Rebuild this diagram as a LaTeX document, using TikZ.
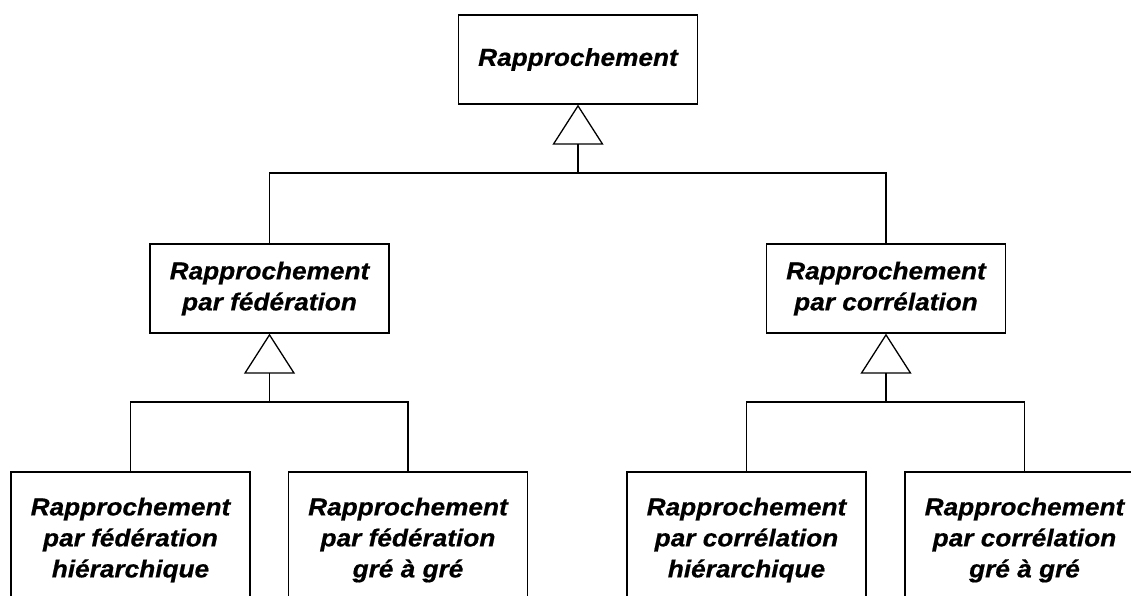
\documentclass[tikz,border=0pt]{standalone}
\usepackage{fontspec}
\setmainfont{Liberation Sans}[FakeStretch=1.07,FakeBold=0.6]
\usetikzlibrary{arrows.meta}
\begin{document}
\begin{tikzpicture}[x=1pt,y=-1pt,line width=1.3pt,
  box/.style={draw, fill=white, minimum width=239pt, align=center, inner sep=0pt,
    font=\fontsize{24.5}{31}\selectfont\bfseries\itshape},
  gen/.style={-{Triangle[open,length=40pt,width=51pt]}}]
\useasboundingbox (0,0) rectangle (1131,595);
\clip (0,0) rectangle (1131,595);
\node[box, minimum height=89pt] (root) at (578,59.5) {Rapprochement};
\node[box, minimum height=89pt] (fed) at (269.5,288.5) {Rapprochement\\par fédération};
\node[box, minimum height=89pt] (cor) at (886,288.5) {Rapprochement\\par corrélation};
\node[box, minimum height=136pt] (fh) at (130.5,540) {Rapprochement\\par fédération\\hiérarchique};
\node[box, minimum height=136pt] (fg) at (408,540) {Rapprochement\\par fédération\\gré à gré};
\node[box, minimum height=136pt] (ch) at (746.5,540) {Rapprochement\\par corrélation\\hiérarchique};
\node[box, minimum height=136pt] (cg) at (1024.5,540) {Rapprochement\\par corrélation\\gré à gré};
\coordinate (j0) at (578,173);
\coordinate (j1) at (269.5,402);
\coordinate (j2) at (886,402);
\draw (fed.north) |- (j0) -| (cor.north);
\draw[gen] (j0) -- (root.south);
\draw (fh.north) |- (j1) -| (fg.north);
\draw[gen] (j1) -- (fed.south);
\draw (ch.north) |- (j2) -| (cg.north);
\draw[gen] (j2) -- (cor.south);
\end{tikzpicture}
\end{document}
